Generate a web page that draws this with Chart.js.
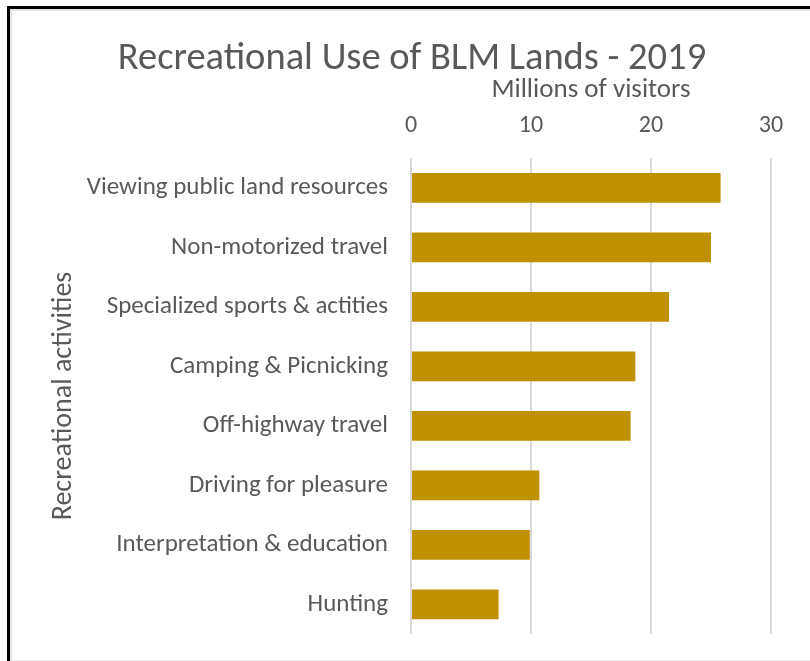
<!DOCTYPE html>
<html>
<head>
<meta charset="utf-8">
<script src="https://cdn.jsdelivr.net/npm/chart.js@4/dist/chart.umd.min.js"></script>
<style>
  html, body { margin: 0; padding: 0; background: #ffffff; }
  #wrap { position: relative; width: 810px; height: 661px; overflow: hidden; }
  #c { position: absolute; left: 0; top: 0; }
  .frame1 { position: absolute; left: 7px; top: 6px; width: 820px; height: 700px;
            border-left: 3px solid #000; border-top: 3px solid #000; pointer-events: none; }
  .frame2 { position: absolute; left: 10px; top: 9px; width: 820px; height: 649px;
            border-left: 2px solid #e2e2e2; border-top: 2px solid #e2e2e2; border-bottom: 1px solid #ececec; pointer-events: none; }
</style>
</head>
<body>
<div id="wrap">
  <canvas id="c" width="810" height="661"></canvas>
  <div class="frame1"></div>
  <div class="frame2"></div>
</div>
<script>
const categories = [
  "Viewing public land resources",
  "Non-motorized travel",
  "Specialized sports & actities",
  "Camping & Picnicking",
  "Off-highway travel",
  "Driving for pleasure",
  "Interpretation & education",
  "Hunting"
];
const visitors = [25.8, 25.0, 21.5, 18.7, 18.3, 10.7, 9.9, 7.3];
const xTicks = [0, 10, 20, 30];

const chartTitle = "Recreational Use of BLM Lands - 2019";
const xAxisTitle = "Millions of visitors";
const yAxisTitle = "Recreational activities";

const FONT = "Carlito, Lato, 'Open Sans', sans-serif";
const TEXT = "#595959";

new Chart(document.getElementById("c"), {
  type: "bar",
  data: {
    labels: categories,
    datasets: [{
      data: visitors,
      backgroundColor: "#BF9000",
      borderWidth: 0,
      categoryPercentage: 1.0,
      barPercentage: 0.5
    }]
  },
  options: {
    indexAxis: "y",
    responsive: false,
    animation: false,
    devicePixelRatio: 1,
    layout: { padding: { left: 53, right: 39, top: 0, bottom: 27 } },
    plugins: {
      legend: { display: false },
      tooltip: { enabled: false },
      title: {
        display: true,
        text: chartTitle,
        color: TEXT,
        font: { family: FONT, size: 38.5, weight: "normal", lineHeight: 1.0 },
        padding: { top: 40, bottom: 0 }
      }
    },
    scales: {
      x: {
        position: "top",
        min: 0,
        max: 30,
        afterBuildTicks: (s) => { s.ticks = xTicks.map(v => ({ value: v })); },
        afterFit: (s) => { s.height = 79.5; s.paddingLeft = 0; s.paddingRight = 0; },
        ticks: { color: TEXT, font: { family: FONT, size: 24 }, padding: 18 },
        grid: { color: "#d9d9d9", lineWidth: 2, drawTicks: false },
        border: { display: false },
        title: {
          display: true,
          text: xAxisTitle,
          color: TEXT,
          font: { family: FONT, size: 27, lineHeight: 0.8 },
          padding: { top: 1, bottom: 0 }
        }
      },
      y: {
        afterFit: (s) => { s.width = 358; s.paddingTop = 0; s.paddingBottom = 0; },
        ticks: { color: TEXT, font: { family: FONT, size: 25 }, padding: 23 },
        grid: { display: false, drawTicks: false },
        border: { display: false },
        title: {
          display: true,
          text: yAxisTitle,
          color: TEXT,
          font: { family: FONT, size: 28, lineHeight: 0.8 },
          padding: { top: 0, bottom: 0 }
        }
      }
    }
  }
});
</script>
</body>
</html>
